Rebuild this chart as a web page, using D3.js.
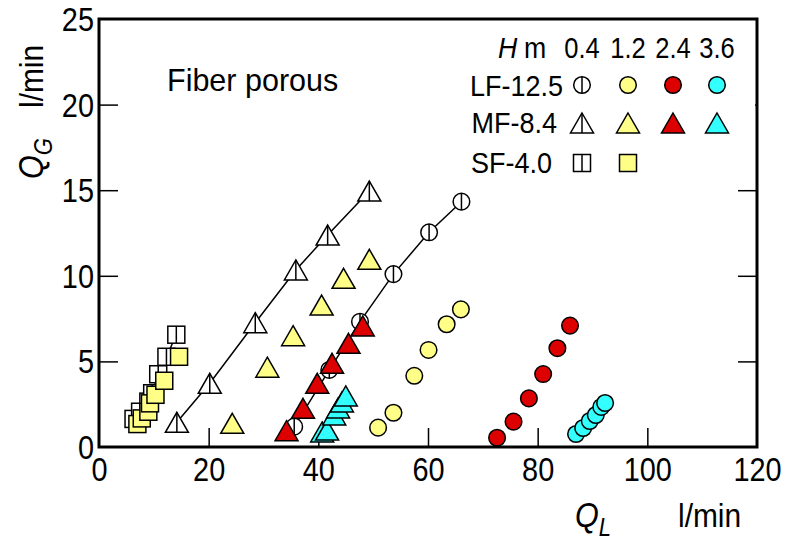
<!DOCTYPE html>
<html><head><meta charset="utf-8">
<script src="https://cdn.jsdelivr.net/npm/d3@7"></script>
<style>body{margin:0;background:#fff}svg text{font-family:"Liberation Sans",Arial,sans-serif}</style>
</head><body><svg id="c" width="787" height="545"></svg>
<script>
// tick labels
const xTicks = [0,20,40,60,80,100,120];
const yTicks = [0,5,10,15,20,25];
const heights = ["0.4","1.2","2.4","3.6"];
const legendRows = ["LF-12.5","MF-8.4","SF-4.0"];
// LF-12.5 (circles)
const LF04 = [[35.6,1.19],[42.0,4.5],[47.6,7.32],[53.7,10.1],[60.2,12.54],[66.1,14.33]];
const LF12 = [[50.9,1.13],[53.7,2.0],[57.5,4.16],[60.1,5.67],[63.4,7.17],[66.0,8.04]];
const LF24 = [[72.6,0.54],[75.6,1.48],[78.4,2.84],[81.0,4.26],[83.6,5.77],[85.9,7.09]];
const LF36 = [[87.0,0.76],[88.3,1.11],[89.5,1.52],[90.6,1.87],[91.6,2.34],[92.3,2.57]];
// MF-8.4 (triangles)
const MF04 = [[14.2,1.44],[20.2,3.72],[28.5,7.26],[35.9,10.34],[41.7,12.38],[49.3,14.95]];
const MF12 = [[24.3,1.38],[30.7,4.66],[35.4,6.5],[40.6,8.29],[44.6,9.85],[49.3,10.96]];
const MF24 = [[34.2,0.95],[37.2,2.26],[39.8,3.72],[42.5,4.89],[45.5,6.06],[48.1,7.07]];
const MF36 = [[40.7,0.88],[41.6,0.99],[42.9,1.87],[43.6,2.28],[44.3,2.63],[45.0,2.98]];
// SF-4.0 (squares)
const SF04 = [[6.3,1.64],[7.5,2.06],[9.0,2.65],[9.7,3.14],[10.8,4.25],[12.3,5.27],[14.1,6.56]];
const SF12 = [[7.0,1.34],[7.8,1.67],[9.0,2.06],[9.3,2.55],[10.3,3.05],[11.9,3.87],[14.6,5.27]];

const svg = d3.select("#c");
const L=99, R=757, T=19, B=447;
const x = d3.scaleLinear().domain([0,120]).range([L,R]);
const y = d3.scaleLinear().domain([0,25]).range([B,T]);
const colors = {"0.4":"#ffffff","1.2":"#ffff88","2.4":"#dd0000","3.6":"#33ffff"};
const SX = 0.85;

// text helper with horizontal condensing
function txt(parent, px, py, size, sx, anchor, content, html, rot){
  const t = parent.append("text")
    .attr("transform", `translate(${px},${py})` + (rot?` rotate(${rot})`:"") + ` scale(${sx},1)`)
    .attr("font-size", size).attr("text-anchor", anchor||"start");
  if(html) t.html(content); else t.text(content);
  return t;
}

// axes with inward ticks
const gx = svg.append("g").attr("transform",`translate(0,${B})`)
  .call(d3.axisBottom(x).tickValues(xTicks).tickSize(-19).tickPadding(10).tickFormat(d3.format("d")));
const gy = svg.append("g").attr("transform",`translate(${L},0)`)
  .call(d3.axisLeft(y).tickValues(yTicks).tickSize(-19).tickPadding(5).tickFormat(d3.format("d")));
const gr = svg.append("g").attr("transform",`translate(${R},0)`)
  .call(d3.axisRight(y).tickValues([5,10,15,20]).tickSize(-19).tickFormat(""));
[gx,gy,gr].forEach(g=>{g.select(".domain").remove();
  g.selectAll(".tick line").attr("stroke","#000").attr("stroke-width",1.5);
  g.selectAll("text").attr("font-size",34).attr("fill","#000").attr("font-family",null);});
gx.selectAll(".tick").filter(d=>d===0||d===120).select("line").remove();
gy.selectAll(".tick").filter(d=>d===0||d===25).select("line").remove();
gx.selectAll("text").attr("dy","0.71em").each(function(){const t=d3.select(this);
  t.attr("transform",`translate(0,${+t.attr("y")}) scale(${SX},1)`).attr("y",0);});
gy.selectAll("text").attr("dy","0.34em").each(function(){const t=d3.select(this);
  t.attr("transform",`translate(${+t.attr("x")},0) scale(${SX},1)`).attr("x",0);});

// lines for 0.4 series
const line = d3.line().x(d=>x(d[0])).y(d=>y(d[1]));
[LF04,MF04,SF04].forEach(s=>svg.append("path").attr("d",line(s)).attr("fill","none").attr("stroke","#000").attr("stroke-width",1.5));

function circle(g,fill,open){ g.append("circle").attr("r",8.3).attr("fill",fill).attr("stroke","#000").attr("stroke-width",1.5);
  if(open) g.append("line").attr("y1",-8.3).attr("y2",8.3).attr("stroke","#000").attr("stroke-width",1.5);}
function tri(g,fill,open){ g.append("path").attr("d","M0,-10L11.5,10L-11.5,10Z").attr("fill",fill).attr("stroke","#000").attr("stroke-width",1.5);
  if(open) g.append("line").attr("y1",-10).attr("y2",10).attr("stroke","#000").attr("stroke-width",1.5);}
function sq(g,fill,open){ g.append("rect").attr("x",-8.5).attr("y",-8.5).attr("width",17).attr("height",17).attr("fill",fill).attr("stroke","#000").attr("stroke-width",1.5);
  if(open) g.append("line").attr("y1",-8.5).attr("y2",8.5).attr("stroke","#000").attr("stroke-width",1.5);}
function plot(data,fn,h){ data.forEach(d=>{const g=svg.append("g").attr("transform",`translate(${x(d[0])},${y(d[1])})`); fn(g,colors[h],h==="0.4");}); }

plot(LF04,circle,"0.4"); plot(MF04,tri,"0.4"); plot(SF04,sq,"0.4");
plot(LF12,circle,"1.2"); plot(MF12,tri,"1.2"); plot(SF12,sq,"1.2");
plot(LF24,circle,"2.4"); plot(MF24,tri,"2.4");
plot(MF36,tri,"3.6"); plot(LF36,circle,"3.6");

// legend
const lg = svg.append("g");
lg.append("rect").attr("x",465).attr("y",T+2).attr("width",R-467).attr("height",160).attr("fill","#fff");
const hx=[582,628,673,717], ry=[85,123,163];
txt(lg,498,58,29,0.92,"start",'<tspan font-style="italic">H</tspan>',true);
txt(lg,524,58,29,0.92,"start","m");
heights.forEach((h,i)=>txt(lg,hx[i],58,29,0.88,"middle",h));
const rxEnd=[563,557,552], rb=[96,133,173];
legendRows.forEach((r,i)=>txt(lg,rxEnd[i],rb[i],30,0.9,"end",r));
const fns=[circle,tri,sq];
legendRows.forEach((r,i)=>heights.forEach((h,j)=>{ if(i===2&&j>1) return;
  const g=lg.append("g").attr("transform",`translate(${hx[j]},${ry[i]})`); fns[i](g,colors[h],h==="0.4"); }));

// frame
svg.append("rect").attr("x",L).attr("y",T).attr("width",R-L).attr("height",B-T).attr("fill","none").attr("stroke","#000").attr("stroke-width",3);

// annotation
txt(svg,167,91,30.5,1.0,"start","Fiber porous");
// axis titles
txt(svg,575,527,36,0.85,"start",'<tspan font-style="italic">Q</tspan><tspan font-style="italic" font-size="26" dy="9">L</tspan>',true);
txt(svg,678,527,34,0.88,"start","l/min");
txt(svg,43,179,36,0.85,"start",'<tspan font-style="italic">Q</tspan><tspan font-style="italic" font-size="26" dy="9">G</tspan>',true,-90);
txt(svg,43,108,34,0.88,"start","l/min",false,-90);
</script></body></html>
